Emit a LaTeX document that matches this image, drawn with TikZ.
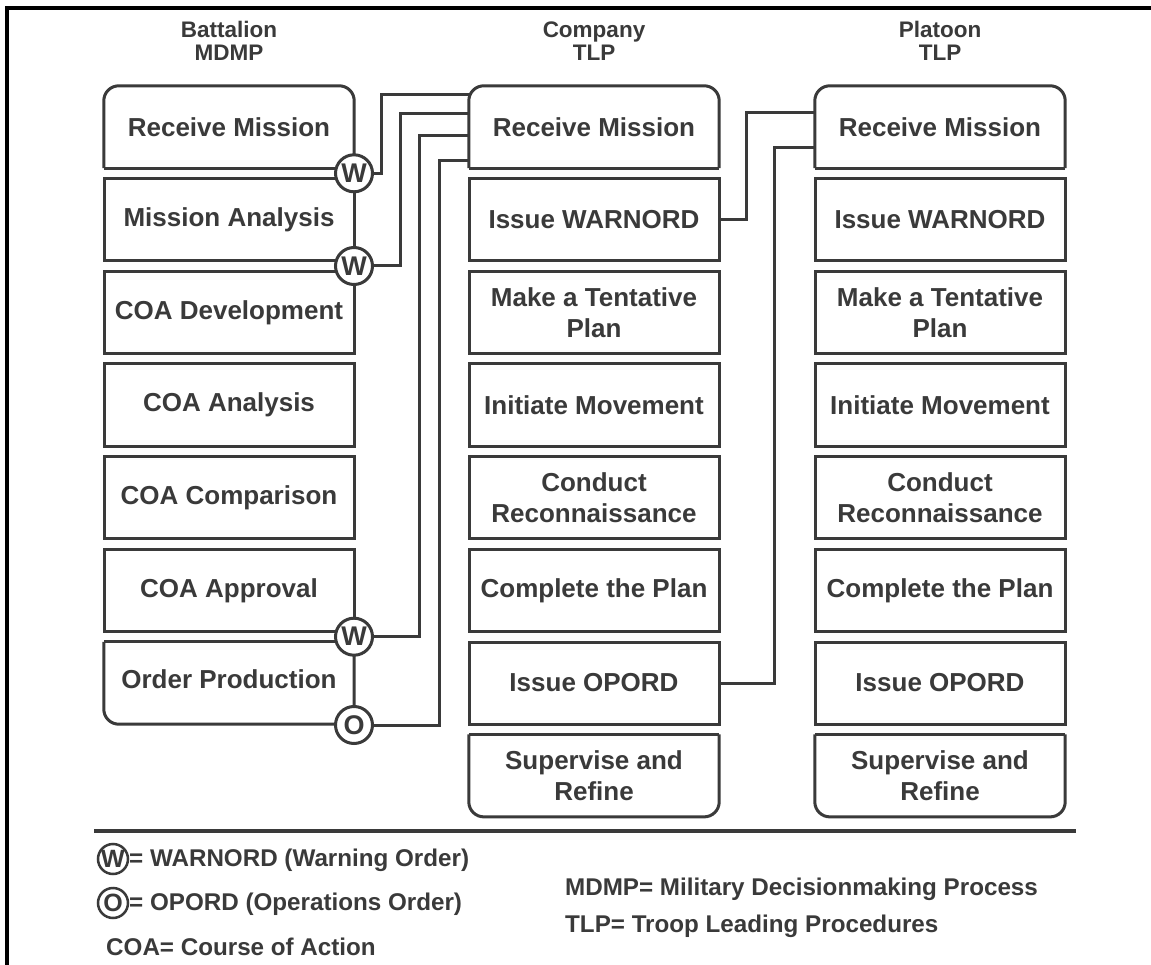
\documentclass[tikz,border=0pt]{standalone}
\usepackage{fontspec}
\setmainfont{Liberation Sans}
\definecolor{ink}{HTML}{3A3A3A}
\begin{document}
\begin{tikzpicture}[x=1pt,y=-1pt,
  box/.style={rectangle, minimum width=250pt, minimum height=82pt, inner sep=0pt, align=center, font=\fontsize{26}{31}\selectfont\bfseries, text=ink},
  boxd/.style={box, draw=ink, line width=3pt},
  outl/.style={draw=ink, line width=3pt, rounded corners=15pt},
  circ/.style={circle, draw=ink, fill=white, line width=3pt, minimum size=37pt, inner sep=0pt, font=\fontsize{27}{27}\selectfont\bfseries, text=ink},
  conn/.style={draw=ink, line width=3pt},
  hdr/.style={align=center, font=\fontsize{22.5}{23}\selectfont\bfseries, text=ink},
  leg/.style={anchor=west, font=\fontsize{24.2}{26}\selectfont\bfseries, text=ink, inner sep=0pt},
  legc/.style={circle, draw=ink, line width=2.5pt, minimum size=30pt, inner sep=0pt, font=\fontsize{25}{25}\selectfont\bfseries, text=ink}
]
\fill[white] (0,0) rectangle (1151,965);
\useasboundingbox (0,0) rectangle (1151,965);
\draw[black, line width=3.5pt] (7,965) -- (7,8) -- (1151,8);

% headers
\node[hdr] (hb) at (229,41) {Battalion\\MDMP};
\node[hdr] (hc) at (594,41) {Company\\TLP};
\node[hdr] (hp) at (940,41) {Platoon\\TLP};

% Battalion column
\node[box] (b0) at (229,127) {Receive Mission};
\draw[outl] (b0.south west) -- (b0.north west) -- (b0.north east) -- (b0.south east);
\draw[conn] (b0.south west) -- (b0.south east);
\node[boxd] (b1) at (229,219.67) {Mission Analysis};
\node[boxd] (b2) at (229,312.33) {COA Development};
\node[boxd] (b3) at (229,405) {COA Analysis};
\node[boxd] (b4) at (229,497.67) {COA Comparison};
\node[boxd] (b5) at (229,590.33) {COA Approval};
\node[box] (b6) at (229,683) {\raisebox{8pt}{Order Production}};
\draw[outl] (b6.north west) -- (b6.south west) -- (b6.south east) -- (b6.north east);
\draw[conn] (b6.north west) -- (b6.north east);

% Company column
\node[box] (c0) at (594,127) {Receive Mission};
\draw[outl] (c0.south west) -- (c0.north west) -- (c0.north east) -- (c0.south east);
\draw[conn] (c0.south west) -- (c0.south east);
\node[boxd] (c1) at (594,219.67) {Issue WARNORD};
\node[boxd] (c2) at (594,312.33) {Make a Tentative\\Plan};
\node[boxd] (c3) at (594,405) {Initiate Movement};
\node[boxd] (c4) at (594,497.67) {Conduct\\Reconnaissance};
\node[boxd] (c5) at (594,590.33) {Complete the Plan};
\node[boxd] (c6) at (594,683) {Issue OPORD};
\node[box] (c7) at (594,775.67) {Supervise and\\Refine};
\draw[outl] (c7.north west) -- (c7.south west) -- (c7.south east) -- (c7.north east);
\draw[conn] (c7.north west) -- (c7.north east);

% Platoon column
\node[box] (p0) at (940,127) {Receive Mission};
\draw[outl] (p0.south west) -- (p0.north west) -- (p0.north east) -- (p0.south east);
\draw[conn] (p0.south west) -- (p0.south east);
\node[boxd] (p1) at (940,219.67) {Issue WARNORD};
\node[boxd] (p2) at (940,312.33) {Make a Tentative\\Plan};
\node[boxd] (p3) at (940,405) {Initiate Movement};
\node[boxd] (p4) at (940,497.67) {Conduct\\Reconnaissance};
\node[boxd] (p5) at (940,590.33) {Complete the Plan};
\node[boxd] (p6) at (940,683) {Issue OPORD};
\node[box] (p7) at (940,775.67) {Supervise and\\Refine};
\draw[outl] (p7.north west) -- (p7.south west) -- (p7.south east) -- (p7.north east);
\draw[conn] (p7.north west) -- (p7.north east);

% order circles
\node[circ] (w1) at (354,173.3) {W};
\node[circ] (w2) at (354,266) {W};
\node[circ] (w3) at (354,636.7) {W};
\node[circ] (o1) at (354,725) {O};

% connectors battalion -> company
\draw[conn] (w1.east) -- ++(7,0) |- ([yshift=-9pt]c0.north west);
\draw[conn] (w2.east) -- ++(26,0) |- ([yshift=-28pt]c0.north west);
\draw[conn] (w3.east) -- ++(45,0) |- ([yshift=-50pt]c0.north west);
\draw[conn] (o1.east) -- ++(65,0) |- ([yshift=-75pt]c0.north west);

% connectors company -> platoon
\draw[conn] (c1.east) -- ++(26,0) |- ([yshift=-27pt]p0.north west);
\draw[conn] (c6.east) -- ++(54,0) |- ([yshift=-62pt]p0.north west);

% legend
\draw[ink, line width=4pt] (94,831) -- (1076,831);
\node[legc] (lw) at (113,859) {W};
\node[leg] (lwt) at (129,860) {= WARNORD (Warning Order)};
\node[legc] (lo) at (113,903) {O};
\node[leg] (lot) at (129,904) {= OPORD (Operations Order)};
\node[leg] (lcoa) at (106,947) {COA= Course of Action};
\node[leg] (lmdmp) at (565,889) {MDMP= Military Decisionmaking Process};
\node[leg] (ltlp) at (565,926) {TLP= Troop Leading Procedures};
\end{tikzpicture}
\end{document}
